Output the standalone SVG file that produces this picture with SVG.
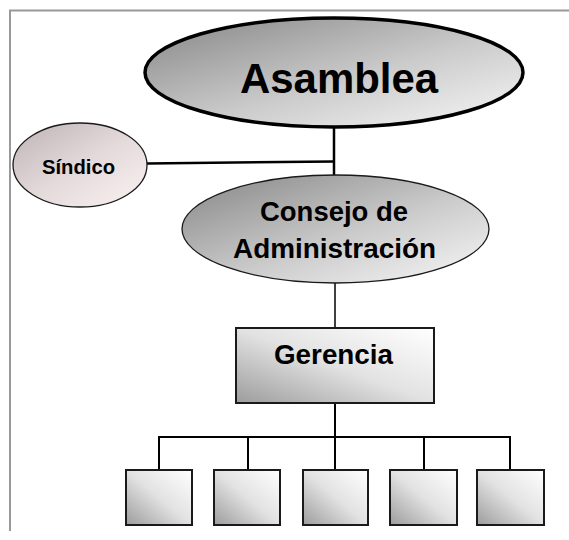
<svg xmlns="http://www.w3.org/2000/svg" width="569" height="540" viewBox="0 0 569 540">
  <defs>
    <linearGradient id="gEll" x1="0" y1="0" x2="1" y2="1">
      <stop offset="0" stop-color="#858585"/>
      <stop offset="0.55" stop-color="#cbcbcb"/>
      <stop offset="1" stop-color="#f8f8f8"/>
    </linearGradient>
    <linearGradient id="gSin" x1="0" y1="0" x2="1" y2="1">
      <stop offset="0" stop-color="#bdb3b4"/>
      <stop offset="0.5" stop-color="#e3d9da"/>
      <stop offset="1" stop-color="#fbf2f2"/>
    </linearGradient>
    <linearGradient id="gBox" x1="0" y1="1" x2="1" y2="0">
      <stop offset="0" stop-color="#9c9c9c"/>
      <stop offset="0.5" stop-color="#e2e2e2"/>
      <stop offset="1" stop-color="#ffffff"/>
    </linearGradient>
    <style>
      .t { font-family: "Liberation Sans", Arial, sans-serif; font-weight: bold; fill: #000; text-anchor: middle; }
      .c { stroke: #000; fill: none; }
      .box { fill: url(#gBox); stroke: #1a1a1a; stroke-width: 2; }
    </style>
  </defs>
  <rect width="569" height="540" fill="#ffffff"/>
  <g id="frame" stroke="#999999" stroke-width="2" fill="none">
    <path d="M10 531 V10.5 H569"/>
  </g>
  <g id="connectors">
    <line class="c" x1="334" y1="127" x2="334" y2="176" stroke-width="2.5"/>
    <line class="c" x1="147" y1="163.5" x2="334" y2="161.5" stroke-width="2.5"/>
    <line class="c" x1="335" y1="283" x2="335" y2="328" stroke-width="1.5"/>
    <line class="c" x1="335" y1="403" x2="335" y2="470" stroke-width="2"/>
    <path class="c" d="M159 470 V437 H510 V470 M248 437 V470 M424 437 V470" stroke-width="2"/>
  </g>
  <g id="asamblea">
    <ellipse cx="334" cy="72.5" rx="189" ry="54.5" fill="url(#gEll)" stroke="#000" stroke-width="3.5"/>
    <text class="t" x="339" y="93" font-size="42" textLength="198" lengthAdjust="spacingAndGlyphs">Asamblea</text>
  </g>
  <g id="sindico">
    <ellipse cx="80" cy="165" rx="67" ry="42" fill="url(#gSin)" stroke="#1a1a1a" stroke-width="1.3"/>
    <text class="t" x="78.5" y="174" font-size="21" textLength="73" lengthAdjust="spacingAndGlyphs">Síndico</text>
  </g>
  <g id="consejo">
    <ellipse cx="335.5" cy="229" rx="153.5" ry="54" fill="url(#gEll)" stroke="#1a1a1a" stroke-width="1.3"/>
    <text class="t" x="334" y="221" font-size="28.5" textLength="148" lengthAdjust="spacingAndGlyphs">Consejo de</text>
    <text class="t" x="334.5" y="258" font-size="28.5" textLength="203" lengthAdjust="spacingAndGlyphs">Administración</text>
  </g>
  <g id="gerencia">
    <rect class="box" x="236" y="328" width="198" height="75" stroke-width="1.6"/>
    <text class="t" x="333.5" y="364" font-size="28" textLength="119" lengthAdjust="spacingAndGlyphs">Gerencia</text>
  </g>
  <g id="box1"><rect class="box" x="126" y="470" width="66" height="55"/></g>
  <g id="box2"><rect class="box" x="214" y="470" width="66" height="55"/></g>
  <g id="box3"><rect class="box" x="303" y="470" width="65" height="55"/></g>
  <g id="box4"><rect class="box" x="390" y="470" width="67" height="55"/></g>
  <g id="box5"><rect class="box" x="477" y="470" width="67" height="55"/></g>
</svg>
